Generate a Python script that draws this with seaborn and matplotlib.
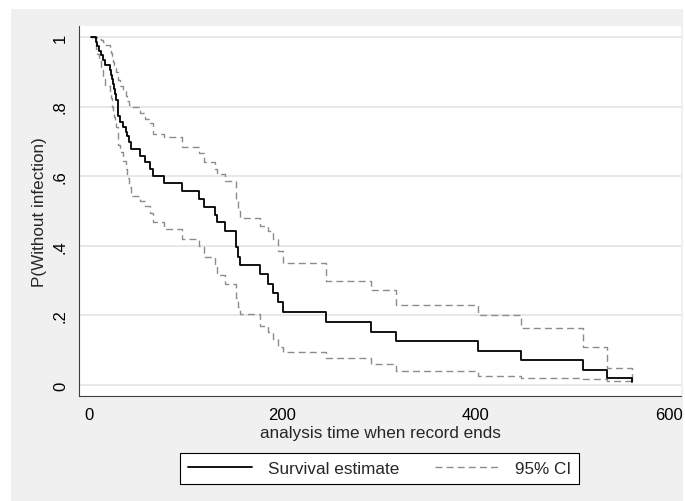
## Kaplan-Meier curve for infection-free catheter time, with 95% CI

import numpy as np
import pandas as pd
import seaborn as sns
import matplotlib.pyplot as plt
from matplotlib.lines import Line2D
from matplotlib.patches import Rectangle

# step times (analysis time) and values after each step
time = [2, 7, 8, 10, 12, 15, 17, 22, 23, 24, 25, 26, 27, 28, 30, 32, 35, 38,
        39, 41, 43, 53, 58, 63, 66, 78, 96, 114, 119, 130, 132, 141, 152, 154,
        156, 177, 185, 190, 196, 201, 245, 292, 318, 402, 447, 511, 536, 562]

surv = [1.0, 0.987, 0.974, 0.961, 0.947, 0.934, 0.92, 0.906, 0.892, 0.879,
        0.864, 0.85, 0.836, 0.82, 0.773, 0.757, 0.741, 0.728, 0.716, 0.697,
        0.678, 0.659, 0.642, 0.621, 0.601, 0.58, 0.558, 0.534, 0.511, 0.489,
        0.467, 0.442, 0.396, 0.369, 0.345, 0.319, 0.29, 0.264, 0.238, 0.209,
        0.182, 0.153, 0.126, 0.099, 0.072, 0.044, 0.019, 0.008]

ci_upper = [1.0, 1.0, 0.997, 0.994, 0.99, 0.985, 0.978, 0.965, 0.955, 0.945,
            0.928, 0.92, 0.91, 0.9, 0.875, 0.86, 0.845, 0.83, 0.815, 0.806,
            0.799, 0.782, 0.764, 0.752, 0.721, 0.712, 0.685, 0.668, 0.641,
            0.622, 0.606, 0.587, 0.53, 0.5, 0.479, 0.458, 0.443, 0.42, 0.385,
            0.35, 0.3, 0.274, 0.231, 0.2, 0.164, 0.108, 0.048, 0.01]

ci_lower = [1.0, 0.965, 0.95, 0.93, 0.91, 0.88, 0.86, 0.84, 0.825, 0.8,
            0.785, 0.77, 0.755, 0.74, 0.69, 0.67, 0.645, 0.62, 0.595, 0.57,
            0.543, 0.528, 0.515, 0.495, 0.468, 0.448, 0.42, 0.4, 0.367, 0.345,
            0.316, 0.29, 0.25, 0.225, 0.204, 0.17, 0.152, 0.132, 0.11, 0.094,
            0.077, 0.06, 0.041, 0.027, 0.019, 0.017, 0.012, 0.01]

xticks = [0, 200, 400, 600]
yticks = [0, 0.2, 0.4, 0.6, 0.8, 1.0]
ytick_labels = ["0", ".2", ".4", ".6", ".8", "1"]

df = pd.DataFrame({"time": time, "surv": surv,
                   "upper": ci_upper, "lower": ci_lower})

sns.set_style("white")
plt.rcParams['font.family'] = ['Liberation Sans', 'DejaVu Sans']

W, H = 685, 502
fig = plt.figure(figsize=(W / 100, H / 100), dpi=100)
fig.patch.set_facecolor("white")
# grey graph region
fig.patches.append(Rectangle((11 / W, 0), (683 - 11) / W, 1 - 10 / H,
                             transform=fig.transFigure, facecolor="#f0f0f0",
                             edgecolor="none", zorder=-10))

ax = fig.add_axes([79 / W, 1 - 397 / H, (681 - 79) / W, (397 - 27) / H])
ax.set_facecolor("white")

ci_color = "#8c8c8c"
dash = (0, (5, 3))
for col in ["upper", "lower"]:
    sns.lineplot(data=df, x="time", y=col, ax=ax, estimator=None,
                 color=ci_color, lw=1.0, linestyle=dash,
                 drawstyle="steps-post")
sns.lineplot(data=df, x="time", y="surv", ax=ax, estimator=None,
             color="black", lw=1.3, drawstyle="steps-post")

ax.set_xlim(-10.3, 612.4)
ax.set_ylim(-0.0316, 1.0316)
ax.set_xticks(xticks)
ax.set_yticks(yticks)
ax.set_yticklabels(ytick_labels, rotation=90, va="center")
ax.yaxis.grid(True, color="#e6e6e6", lw=1.3)
ax.xaxis.grid(False)
ax.set_axisbelow(True)

for s in ["top", "right"]:
    ax.spines[s].set_visible(False)
for s in ["left", "bottom"]:
    ax.spines[s].set_color("#404040")
    ax.spines[s].set_linewidth(0.8)
ax.tick_params(axis="both", direction="out", length=5, width=0.8,
               color="#404040", labelsize=12, pad=3, labelcolor="black")

ax.set_xlabel("analysis time when record ends", fontsize=12.3, labelpad=2)
ax.set_ylabel("P(Without infection)", fontsize=12.3, labelpad=4)

handles = [Line2D([], [], color="black", lw=1.3),
           Line2D([], [], color=ci_color, lw=1.0, linestyle=dash)]
leg = fig.legend(handles, ["Survival estimate", "95% CI"],
                 loc="center", ncol=2,
                 bbox_to_anchor=((177 + 582) / 2 / W, 1 - 469.5 / H),
                 frameon=True, fancybox=False, edgecolor="black",
                 framealpha=1, borderaxespad=0, handlelength=3.8,
                 handletextpad=0.9, columnspacing=2.1, borderpad=0.45,
                 fontsize=12.3)
leg.get_frame().set_linewidth(0.8)

fig.savefig("out.png", dpi=100)
plt.close()
